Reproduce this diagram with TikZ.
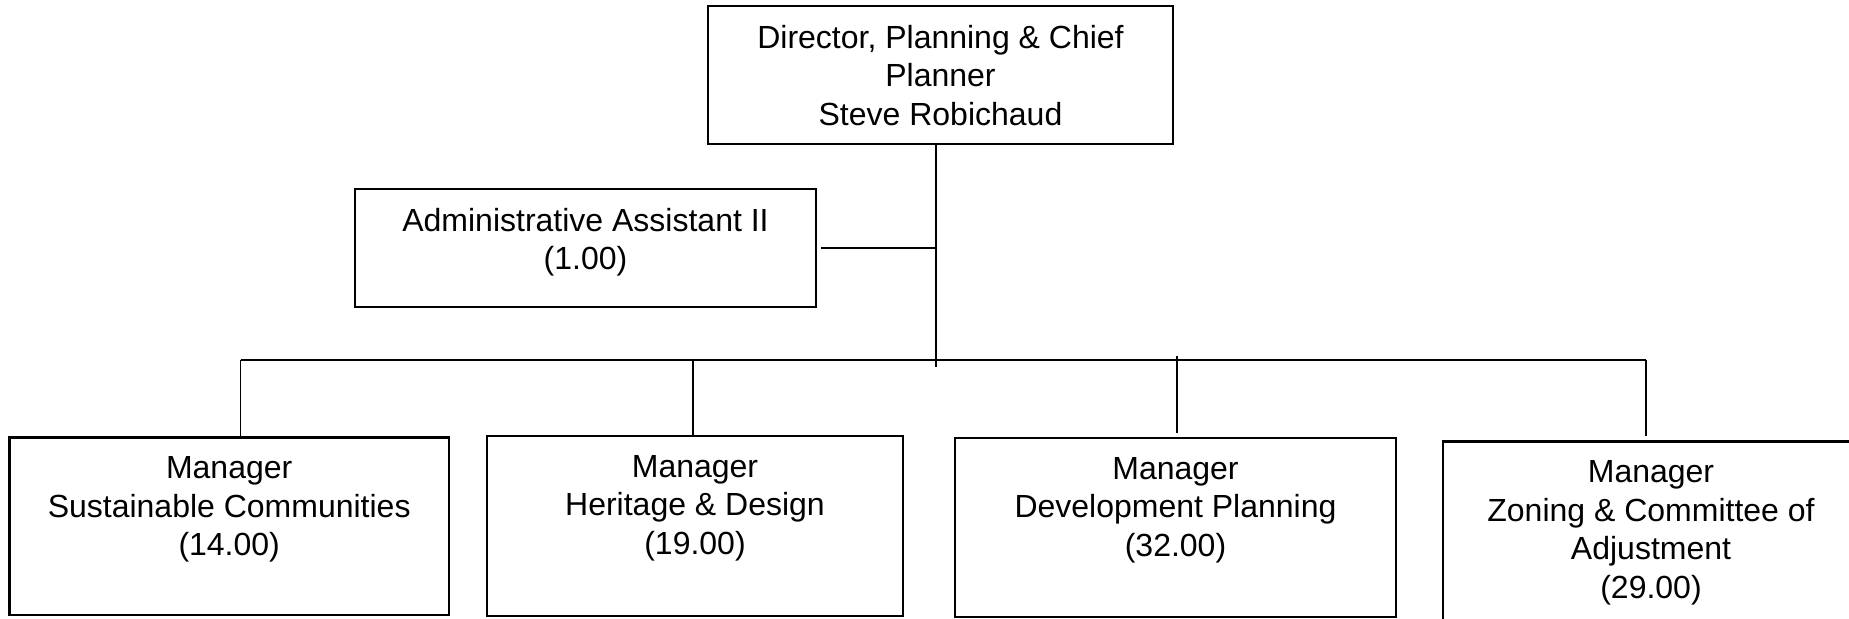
\documentclass[tikz,border=0pt]{standalone}
\usepackage{fontspec}
\setmainfont{Liberation Sans}
\usepackage{tikz}
\usetikzlibrary{positioning}

\begin{document}
\begin{tikzpicture}[
  x=0.5pt, y=-0.5pt,
  orgbox/.style  = {rectangle, draw, line width=1.1pt, inner sep=0pt},
  boxtxt/.style  = {align=center, inner sep=0pt,
                    font=\fontsize{16}{19.25}\selectfont},
  link/.style    = {line width=0.8pt},
  node distance  = 10pt
]
\useasboundingbox (0,0) rectangle (1849,618);
\clip (0,0) rectangle (1849,618);

% director and assistant
\node[orgbox, minimum width=232.5pt, minimum height=69pt] (dir) at (940.5,75) {};
\node[boxtxt, below=of dir.north] (dir-txt)
      {Director, Planning \& Chief\\Planner\\Steve Robichaud};

\node[orgbox, minimum width=230.5pt, minimum height=59pt] (admin) at (585.5,247.7) {};
\node[boxtxt, below=of admin.north] (admin-txt)
      {Administrative Assistant II\\(1.00)};

% managers
\node[orgbox, minimum width=219.8pt, minimum height=88.75pt] (sc) at (229.2,526.2) {};
\node[boxtxt, below=of sc.north] (sc-txt)
      {Manager\\Sustainable Communities\\(14.00)};

\node[orgbox, minimum width=208pt, minimum height=89.85pt] (hd) at (695,525.9) {};
\node[boxtxt, below=of hd.north] (hd-txt)
      {Manager\\Heritage \& Design\\(19.00)};

\node[orgbox, minimum width=220.5pt, minimum height=89.5pt] (dp) at (1175.5,527.5) {};
\node[boxtxt, below=of dp.north] (dp-txt)
      {Manager\\Development Planning\\(32.00)};

\node[orgbox, minimum width=208pt, minimum height=90pt] (zc) at (1651,531.5) {};
\node[boxtxt, below=of zc.north] (zc-txt)
      {Manager\\Zoning \& Committee of\\Adjustment\\(29.00)};

% connectors
\coordinate (trunk-end) at (936,366.6);
\coordinate (sc-drop) at (240.6,359.5);
\coordinate (hd-drop) at (693,359.5);
\coordinate (dp-drop) at (1177,356);
\coordinate (zc-drop) at (1646,359.5);

\draw[link] (dir.south -| trunk-end) -- (trunk-end);
\draw[link] ([xshift=2pt]admin.east) -- (admin.east -| trunk-end);
\draw[line width=1pt] (sc-drop) -- (zc-drop);

\draw[link] (sc-drop) -- (sc-drop |- sc.north);
\draw[link] (hd-drop) -- (hd-drop |- hd.north);
\draw[link, shorten >=2.2pt] (dp-drop) -- (dp-drop |- dp.north);
\draw[link, shorten >=2pt] (zc-drop) -- (zc-drop |- zc.north);
\end{tikzpicture}
\end{document}
